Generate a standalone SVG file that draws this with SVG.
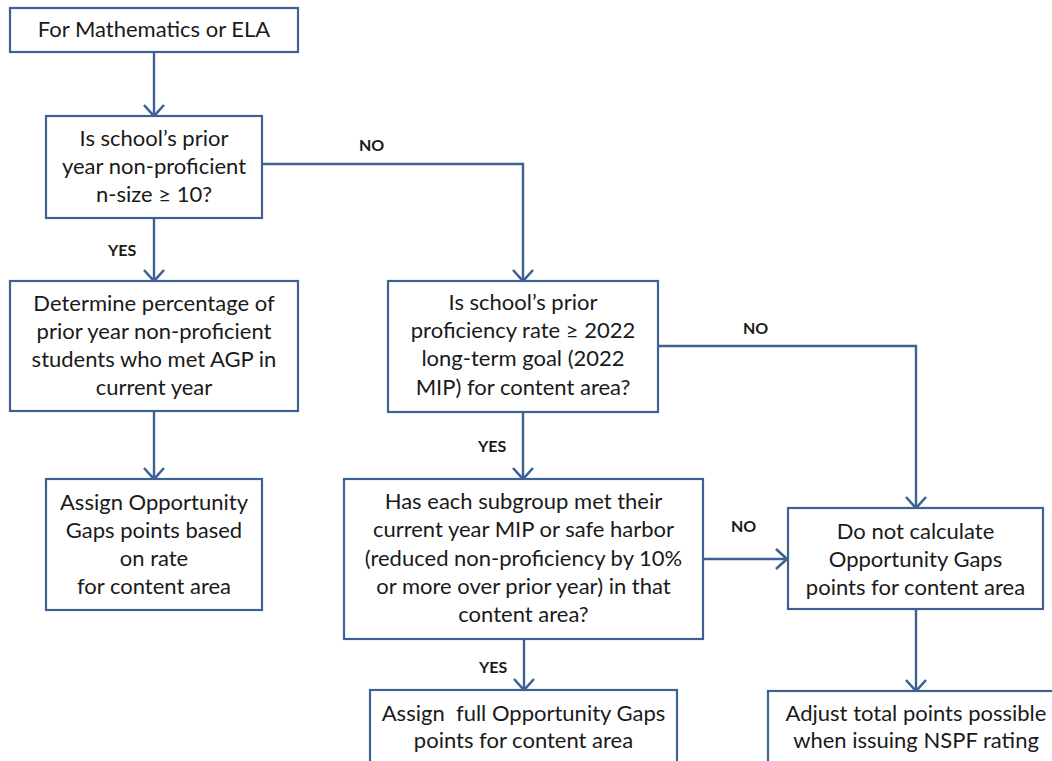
<svg xmlns="http://www.w3.org/2000/svg" width="1052" height="761" viewBox="0 0 1052 761">
  <style>
    .box { fill: #ffffff; stroke: #3d6193; stroke-width: 2.2; }
    .txt { font-family: Lato, "Open Sans", "Liberation Sans", sans-serif; font-size: 22px; fill: #1a1a1a; text-anchor: middle; white-space: pre; }
    .lbl { font-family: Lato, "Liberation Sans", sans-serif; font-size: 16px; font-weight: bold; fill: #1a1a1a; }
    .conn { fill: none; stroke: #3d6193; stroke-width: 2.4; marker-end: url(#chev); }
  </style>
  <defs>
    <marker id="chev" viewBox="0 0 24 24" refX="22" refY="12" markerWidth="24" markerHeight="24" markerUnits="userSpaceOnUse" orient="auto">
      <path d="M11 2 L22 12 L11 22" fill="none" stroke="#3d6193" stroke-width="2.6"/>
    </marker>
  </defs>
  <rect width="1052" height="761" fill="#ffffff"/>

  <!-- connectors with their branch labels -->
  <g id="connectors">
    <path class="conn" d="M154 52 V116"/>
    <path class="conn" d="M262 164 H523 V281"/>
    <path class="conn" d="M154 218 V281"/>
    <path class="conn" d="M154 411 V479"/>
    <path class="conn" d="M658 346 H916 V508"/>
    <path class="conn" d="M523 412 V479"/>
    <path class="conn" d="M703 559 H787"/>
    <path class="conn" d="M524 639 V690"/>
    <path class="conn" d="M916 609 V691"/>
    <text class="lbl" x="359" y="151">NO</text>
    <text class="lbl" x="108" y="256">YES</text>
    <text class="lbl" x="743" y="334">NO</text>
    <text class="lbl" x="478" y="452">YES</text>
    <text class="lbl" x="731" y="532">NO</text>
    <text class="lbl" x="479" y="673">YES</text>
  </g>

  <g id="start">
    <rect class="box" x="10" y="8" width="288" height="44"/>
    <text class="txt" x="154" y="37">For Mathematics or ELA</text>
  </g>

  <g id="nsize">
    <rect class="box" x="46" y="116" width="216" height="102"/>
    <text class="txt" x="154" y="146">Is school’s prior</text>
    <text class="txt" x="154" y="174">year non-proficient</text>
    <text class="txt" x="154" y="202">n-size ≥ 10?</text>
  </g>

  <g id="determine">
    <rect class="box" x="10" y="281" width="288" height="130"/>
    <text class="txt" x="154" y="311">Determine percentage of</text>
    <text class="txt" x="154" y="339">prior year non-proficient</text>
    <text class="txt" x="154" y="367">students who met AGP in</text>
    <text class="txt" x="154" y="395">current year</text>
  </g>

  <g id="assign-rate">
    <rect class="box" x="46" y="479" width="216" height="131"/>
    <text class="txt" x="154" y="510">Assign Opportunity</text>
    <text class="txt" x="154" y="538">Gaps points based</text>
    <text class="txt" x="154" y="566">on rate</text>
    <text class="txt" x="154" y="594">for content area</text>
  </g>

  <g id="prior-rate">
    <rect class="box" x="388" y="281" width="270" height="131"/>
    <text class="txt" x="523" y="310">Is school’s prior</text>
    <text class="txt" x="523" y="338">proficiency rate ≥ 2022</text>
    <text class="txt" x="523" y="366">long-term goal (2022</text>
    <text class="txt" x="523" y="395">MIP) for content area?</text>
  </g>

  <g id="subgroup">
    <rect class="box" x="344" y="479" width="359" height="160"/>
    <text class="txt" x="523.5" y="509">Has each subgroup met their</text>
    <text class="txt" x="523.5" y="537">current year MIP or safe harbor</text>
    <text class="txt" x="523.5" y="566">(reduced non-proficiency by 10%</text>
    <text class="txt" x="523.5" y="594">or more over prior year) in that</text>
    <text class="txt" x="523.5" y="622">content area?</text>
  </g>

  <g id="assign-full">
    <rect class="box" x="370" y="690" width="307" height="90"/>
    <text class="txt" x="523.5" y="721">Assign  full Opportunity Gaps</text>
    <text class="txt" x="523.5" y="748">points for content area</text>
  </g>

  <g id="no-calc">
    <rect class="box" x="788" y="508" width="255" height="101"/>
    <text class="txt" x="915.5" y="539">Do not calculate</text>
    <text class="txt" x="915.5" y="567">Opportunity Gaps</text>
    <text class="txt" x="915.5" y="595">points for content area</text>
  </g>

  <g id="adjust">
    <rect class="box" x="768" y="691" width="296" height="90"/>
    <text class="txt" x="916" y="721">Adjust total points possible</text>
    <text class="txt" x="916" y="748">when issuing NSPF rating</text>
  </g>
</svg>
